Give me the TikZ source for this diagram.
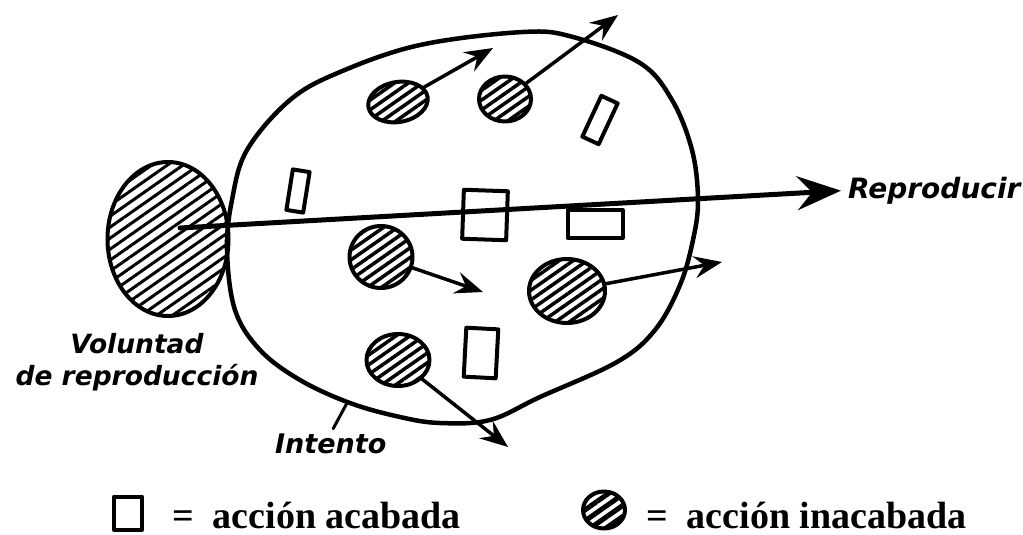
\documentclass[tikz,border=0pt]{standalone}
\usepackage{fontspec}
\newfontfamily\handfont{DejaVu Sans}
\newfontfamily\legfont{Liberation Serif}
\usetikzlibrary{arrows.meta,shapes.geometric,patterns.meta}

\begin{document}
\begin{tikzpicture}[x=1pt,y=-1pt,line cap=round,line join=round,
  inacab/.style={ellipse,draw,line width=4pt,inner sep=0pt,
    pattern={Lines[angle=35,distance=8pt,line width=3.5pt]}},
  acab/.style={rectangle,draw,line width=4pt,inner sep=0pt},
  push/.style={line width=3.5pt,-{Stealth[length=28pt,width=22pt,inset=10pt]}},
  hand/.style={font=\handfont\bfseries\itshape\fontsize{26.5}{32}\selectfont,inner sep=0pt},
  leg/.style={font=\legfont\bfseries\fontsize{38}{40}\selectfont,anchor=base west,inner sep=0pt}]
\useasboundingbox (0,0) rectangle (1023,535);

% el intento
\draw[line width=4.5pt] plot[smooth cycle,tension=0.6] coordinates {
 (227,250) (232,200) (247,150) (290,100) (340,72) (420,45) (523,32)
 (573,37) (640,63) (672,100) (692,150) (698,200) (693,240) (680,285)
 (655,330) (617,362) (540,397) (490,420) (440,423) (400,417) (350,403)
 (300,380) (260,350) (235,310)};

% voluntad de reproduccion
\node[inacab,minimum width=121pt,minimum height=154pt,
  pattern={Lines[angle=35,distance=9pt,line width=3pt]}] (vol) at (168,239) {};
\node[hand,align=center] (volt) at (137,362) {Voluntad\\de reproducción};

% acciones inacabadas
\node[inacab,minimum width=60pt,minimum height=40pt,rotate=10] (h1) at (398,102) {};
\node[inacab,minimum width=52pt,minimum height=45pt] (h2) at (505,99) {};
\node[inacab,minimum width=63pt,minimum height=62pt] (h3) at (381,257) {};
\node[inacab,minimum width=76pt,minimum height=64pt] (h4) at (567,291) {};
\node[inacab,minimum width=63pt,minimum height=52pt] (h5) at (398,360) {};

% acciones acabadas
\node[acab,minimum width=18pt,minimum height=45pt,rotate=-25] (r1) at (600,120) {};
\node[acab,minimum width=17pt,minimum height=41pt,rotate=-9] (r2) at (298,191) {};
\node[acab,minimum width=44pt,minimum height=49pt,rotate=-2] (r3) at (485,215) {};
\node[acab,minimum width=55pt,minimum height=28pt] (r4) at (595,224) {};
\node[acab,minimum width=32pt,minimum height=49pt,rotate=-3] (r5) at (481,353) {};

% flechas
\coordinate (t1) at (493,48);
\coordinate (t2) at (618,15);
\coordinate (t3) at (483,292);
\coordinate (t4) at (722,262);
\coordinate (t5) at (508,447);
\draw[push] (h1) -- (t1);
\draw[push] (h2) -- (t2);
\draw[push] (h3) -- (t3);
\draw[push] (h4) -- (t4);
\draw[push] (h5) -- (t5);

\coordinate (vstart) at (180,228);
\node[hand,font=\handfont\bfseries\itshape\fontsize{28}{32}\selectfont,anchor=base west] (repr) at (848,198) {Reproducir};
\draw[line width=5pt,-{Stealth[length=44pt,width=34pt,inset=15pt]},shorten >=7pt] (vstart) -- (repr.west);

\coordinate (tick) at (347,403);
\node[hand,font=\handfont\bfseries\itshape\fontsize{27}{32}\selectfont,anchor=base west] (intento) at (275,453) {Intento};
\draw[line width=3pt,shorten >=5pt] (tick) -- (intento.north);

% leyenda
\node[acab,minimum width=28pt,minimum height=33pt] (sq) at (128,513) {};
\node[leg] (l1) at (172,528) {=\enspace acción acabada};
\node[inacab,minimum width=42pt,minimum height=37pt,
  pattern={Lines[angle=35,distance=9pt,line width=5pt]}] (hl) at (604,510) {};
\node[leg] (l2) at (646,528) {=\enspace acción inacabada};
\end{tikzpicture}
\end{document}
